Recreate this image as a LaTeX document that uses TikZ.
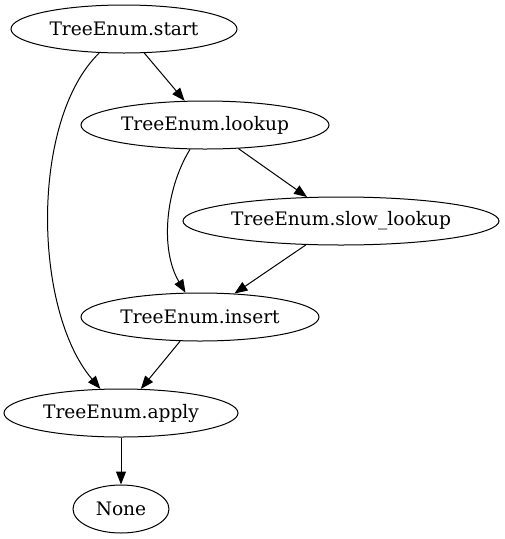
\documentclass[tikz,border=0pt]{standalone}
\usepackage{fontspec}
\setmainfont{DejaVu Serif}
\usetikzlibrary{positioning,shapes.geometric,arrows.meta}

\begin{document}
\begin{tikzpicture}[
    x=1pt, y=-1pt,
    func/.style={draw, ellipse, fill=white, line width=1pt, inner sep=0pt, minimum height=48pt, font=\fontsize{18.6}{22}\selectfont},
    arrow/.style={-{Triangle[length=13pt, width=10pt]}, line width=1pt}
]
    \useasboundingbox (0,0) rectangle (505,539);

    % Nodes
    \node[func, minimum width=226pt] (start) at (124,29) {TreeEnum.start};
    \node[func, minimum width=248pt] (lookup) at (205,125) {TreeEnum.lookup};
    \node[func, minimum width=316pt] (slow) at (341,221) {TreeEnum.slow\_lookup};
    \node[func, minimum width=238pt] (insert) at (200,317) {TreeEnum.insert};
    \node[func, minimum width=234pt] (apply) at (121,413) {TreeEnum.apply};
    \node[func, minimum width=96pt] (none) at (121,509) {None};

    % Arrows
    \draw[arrow] (start) -- (lookup);
    \draw[arrow] (start) .. controls (30,120) and (33,310) .. (apply);
    \draw[arrow] (lookup) -- (slow);
    \draw[arrow] (lookup) .. controls (165,190) and (160,250) .. (insert);
    \draw[arrow] (slow) -- (insert);
    \draw[arrow] (insert) -- (apply);
    \draw[arrow] (apply) -- (none);
\end{tikzpicture}
\end{document}
